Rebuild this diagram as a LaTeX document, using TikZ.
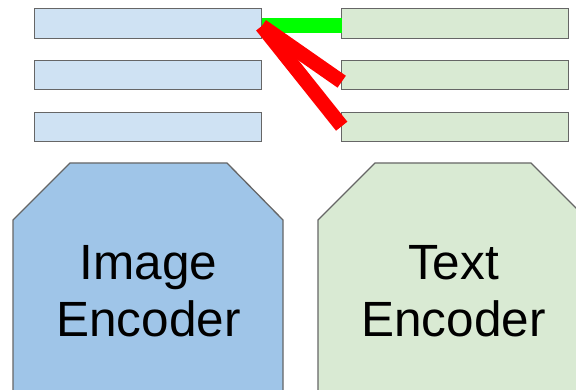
\documentclass[tikz,border=0pt]{standalone}
\usepackage{fontspec}
\setmainfont{Liberation Sans}
\usetikzlibrary{positioning}
\definecolor{imgbar}{HTML}{CFE2F3}
\definecolor{imgenc}{HTML}{9FC5E8}
\definecolor{txtbar}{HTML}{D9EAD3}
\definecolor{edge}{HTML}{666666}

\begin{document}
\begin{tikzpicture}
	[   x=1pt,y=-1pt,
	    bar/.style={draw=edge,fill=#1,line width=1.3pt,minimum width=227pt,minimum height=29.5pt,inner sep=0pt,outer sep=0pt},
	    enc/.style={draw=edge,fill=#1,line width=1.3pt},
	    enclabel/.style={align=center,font=\fontsize{49.5}{57.5}\selectfont,inner sep=0pt},
	]
	\tikzset{match line/.style={draw=green,line width=15pt},
	         miss line/.style={draw=red,line width=14.5pt}}
	\useasboundingbox (0,0) rectangle (576,390);
	\clip (0,0) rectangle (576,390);
	
	% encoders
	\path[enc=imgenc] (13,400) -- (13,220) -- (70,163) -- (227,163) -- (283,220) -- (283,400) -- cycle;
	\path[enc=txtbar] (318,400) -- (318,220) -- (375,163) -- (531,163) -- (588,220) -- (588,400) -- cycle;
	\node[enclabel] (img-enc) at (148.5,291) {Image\\Encoder};
	\node[enclabel] (txt-enc) at (453.5,291) {Text\\Encoder};
	
	% embeddings
	\foreach \y [count=\i] in {23.5,75,127}
	{
		\node[bar=imgbar] (img-\i) at (148.3,\y) {};
		\node[bar=txtbar] (txt-\i) at (455.2,\y) {};
	}
	
	\coordinate[below=2.5pt of img-1.east] (hub);
	\coordinate[below=2.5pt of txt-1.west] (hit);
	\coordinate[below=6.7pt of txt-2.west] (miss-2);
	\coordinate[above=0.8pt of txt-3.west] (miss-3);
	\path[match line] (hub) -- (hit);
	\path[miss line] (hub) -- (miss-2);
	\path[miss line] (hub) -- (miss-3);
\end{tikzpicture}
\end{document}
